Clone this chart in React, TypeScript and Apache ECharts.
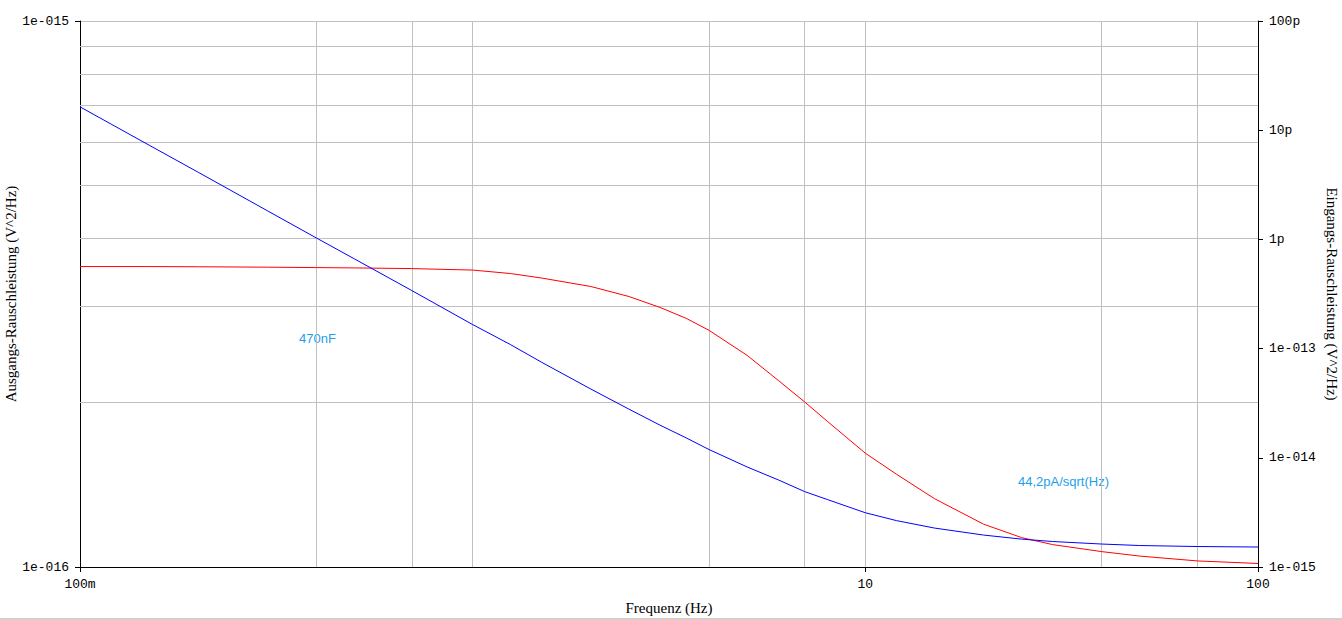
import React, { useEffect, useRef } from "react";
import * as echarts from "echarts";

// Frequencies (Hz)
const freqs = [
  0.1, 0.15, 0.2, 0.3, 0.4, 0.5, 0.7, 1, 1.25, 1.5, 2, 2.5, 3, 3.5, 4, 5, 6, 7, 8, 10, 12, 15, 20, 25, 30, 40, 50,
  70, 100,
];

// Output noise (V^2/Hz), left axis – red
const outputNoise = [
  3.55e-16, 3.55e-16, 3.547e-16, 3.541e-16, 3.535e-16, 3.53e-16, 3.52e-16, 3.498e-16, 3.447e-16, 3.382e-16,
  3.264e-16, 3.129e-16, 2.988e-16, 2.853e-16, 2.713e-16, 2.441e-16, 2.197e-16, 2.007e-16, 1.849e-16, 1.616e-16,
  1.479e-16, 1.334e-16, 1.198e-16, 1.132e-16, 1.099e-16, 1.067e-16, 1.047e-16, 1.026e-16, 1.015e-16,
];

// Input noise (V^2/Hz), right axis – blue
const inputNoise = [
  1.636e-11, 7.29e-12, 4.12e-12, 1.83e-12, 1.03e-12, 6.63e-13, 3.4e-13, 1.66e-13, 1.085e-13, 7.48e-14,
  4.26e-14, 2.79e-14, 1.99e-14, 1.52e-14, 1.19e-14, 8.24e-15, 6.28e-15, 4.91e-15, 4.15e-15, 3.14e-15,
  2.66e-15, 2.273e-15, 1.961e-15, 1.8e-15, 1.711e-15, 1.623e-15, 1.573e-15, 1.54e-15, 1.524e-15,
];

// Grid lines
const xGridValues = [0.4, 0.7, 1, 4, 7, 10, 40, 70];
const yGridValues = [2e-16, 3e-16, 4e-16, 5e-16, 6e-16, 7e-16, 8e-16, 9e-16];

// Tick labels
const xTickValues = [0.1, 10, 100];
const xTickLabels = ["100m", "10", "100"];
const rightLabels: Record<number, string> = {
  [-10]: "100p",
  [-11]: "10p",
  [-12]: "1p",
  [-13]: "1e-013",
  [-14]: "1e-014",
  [-15]: "1e-015",
};
const leftLabels: Record<number, string> = { [-16]: "1e-016", [-15]: "1e-015" };

const MONO = "Liberation Mono";
const SERIF = "Liberation Serif";
const SANS = "Liberation Sans";
const GRID_COLOR = "#c0c0c0";

export default function App() {
  const ref = useRef<HTMLDivElement>(null);

  useEffect(() => {
    if (!ref.current) return;
    const chart = echarts.init(ref.current, undefined, { renderer: "svg" });

    const red = freqs.map((f, i) => [f, outputNoise[i]]);
    const blue = freqs.map((f, i) => [f, inputNoise[i]]);

    const gridLines: any[] = [
      ...xGridValues.map((v) => [{ coord: [v, 1e-16] }, { coord: [v, 1e-15] }]),
      ...yGridValues.map((v) => [{ coord: [0.1, v] }, { coord: [100, v] }]),
    ];

    chart.setOption({
      animation: false,
      backgroundColor: "#ffffff",
      grid: { left: 80, right: 84, top: 21, bottom: 53, containLabel: false, outerBoundsMode: "none" },
      xAxis: {
        type: "log",
        logBase: 10,
        min: 0.1,
        max: 100,
        name: "Frequenz (Hz)",
        nameLocation: "middle",
        nameGap: 33,
        nameMoveOverlap: false,
        nameTextStyle: { fontFamily: SERIF, fontSize: 15, color: "#000" },
        axisLine: { show: true, lineStyle: { color: "#000", width: 1 } },
        axisTick: { show: true, length: 5, lineStyle: { color: "#000" }, customValues: xTickValues },
        axisLabel: {
          customValues: xTickValues,
          margin: 11,
          fontFamily: MONO,
          fontSize: 13,
          color: "#000",
          formatter: (v: number) => {
            let best = 0;
            xTickValues.forEach((t, i) => {
              if (Math.abs(Math.log10(t) - Math.log10(v)) < Math.abs(Math.log10(xTickValues[best]) - Math.log10(v))) best = i;
            });
            return xTickLabels[best];
          },
        },
        splitLine: { show: false },
        minorTick: { show: false },
      },
      yAxis: [
        {
          type: "log",
          logBase: 10,
          min: 1e-16,
          max: 1e-15,
          position: "left",
          name: "Ausgangs-Rauschleistung (V^2/Hz)",
          nameLocation: "middle",
          nameRotate: 90,
          nameGap: 62,
          nameMoveOverlap: false,
          nameTextStyle: { fontFamily: SERIF, fontSize: 15, color: "#000" },
          axisLine: { show: true, lineStyle: { color: "#000", width: 1 } },
          axisTick: { show: true, length: 5, lineStyle: { color: "#000" } },
          axisLabel: {
            margin: 11,
            fontFamily: MONO,
            fontSize: 13,
            color: "#000",
            formatter: (v: number) => leftLabels[Math.round(Math.log10(v))] ?? "",
          },
          splitLine: { show: true, lineStyle: { color: GRID_COLOR, width: 1 } },
        },
        {
          type: "log",
          logBase: 10,
          min: 1e-15,
          max: 1e-10,
          position: "right",
          name: "Eingangs-Rauschleistung (V^2/Hz)",
          nameLocation: "middle",
          nameRotate: -90,
          nameGap: 66,
          nameMoveOverlap: false,
          nameTextStyle: { fontFamily: SERIF, fontSize: 15, color: "#000" },
          axisLine: { show: true, lineStyle: { color: "#000", width: 1 } },
          axisTick: { show: true, length: 5, lineStyle: { color: "#000" } },
          axisLabel: {
            margin: 11,
            fontFamily: MONO,
            fontSize: 13,
            color: "#000",
            formatter: (v: number) => rightLabels[Math.round(Math.log10(v))] ?? "",
          },
          splitLine: { show: false },
        },
      ],
      graphic: [
        {
          type: "text",
          left: 299,
          top: 332,
          style: { text: "470nF", fontFamily: SANS, fontSize: 13, fill: "#1ea0e8" },
        },
        {
          type: "text",
          left: 1018,
          top: 475,
          style: { text: "44,2pA/sqrt(Hz)", fontFamily: SANS, fontSize: 13, fill: "#1ea0e8" },
        },
        {
          type: "rect",
          left: 0,
          top: 618,
          shape: { width: 1342, height: 2 },
          style: { fill: "#d4d0c8" },
        },
      ],
      series: [
        {
          type: "line",
          name: "grid",
          xAxisIndex: 0,
          yAxisIndex: 0,
          data: [],
          z: 1,
          silent: true,
          markLine: {
            z: 1,
            silent: true,
            symbol: ["none", "none"],
            label: { show: false },
            lineStyle: { color: GRID_COLOR, width: 1, type: "solid" },
            emphasis: { disabled: true },
            data: gridLines,
          },
        },
        {
          type: "line",
          name: "Ausgang",
          xAxisIndex: 0,
          yAxisIndex: 0,
          data: red,
          showSymbol: false,
          symbol: "none",
          z: 3,
          lineStyle: { color: "#ff0000", width: 1 },
          itemStyle: { color: "#ff0000" },
        },
        {
          type: "line",
          name: "Eingang",
          xAxisIndex: 0,
          yAxisIndex: 1,
          data: blue,
          showSymbol: false,
          symbol: "none",
          z: 3,
          lineStyle: { color: "#0000ff", width: 1 },
          itemStyle: { color: "#0000ff" },
        },
      ],
    });

    return () => chart.dispose();
  }, []);

  return (
    <div
      ref={ref}
      style={{ position: "absolute", left: 0, top: 0, width: 1342, height: 620, background: "#fff" }}
    />
  );
}
